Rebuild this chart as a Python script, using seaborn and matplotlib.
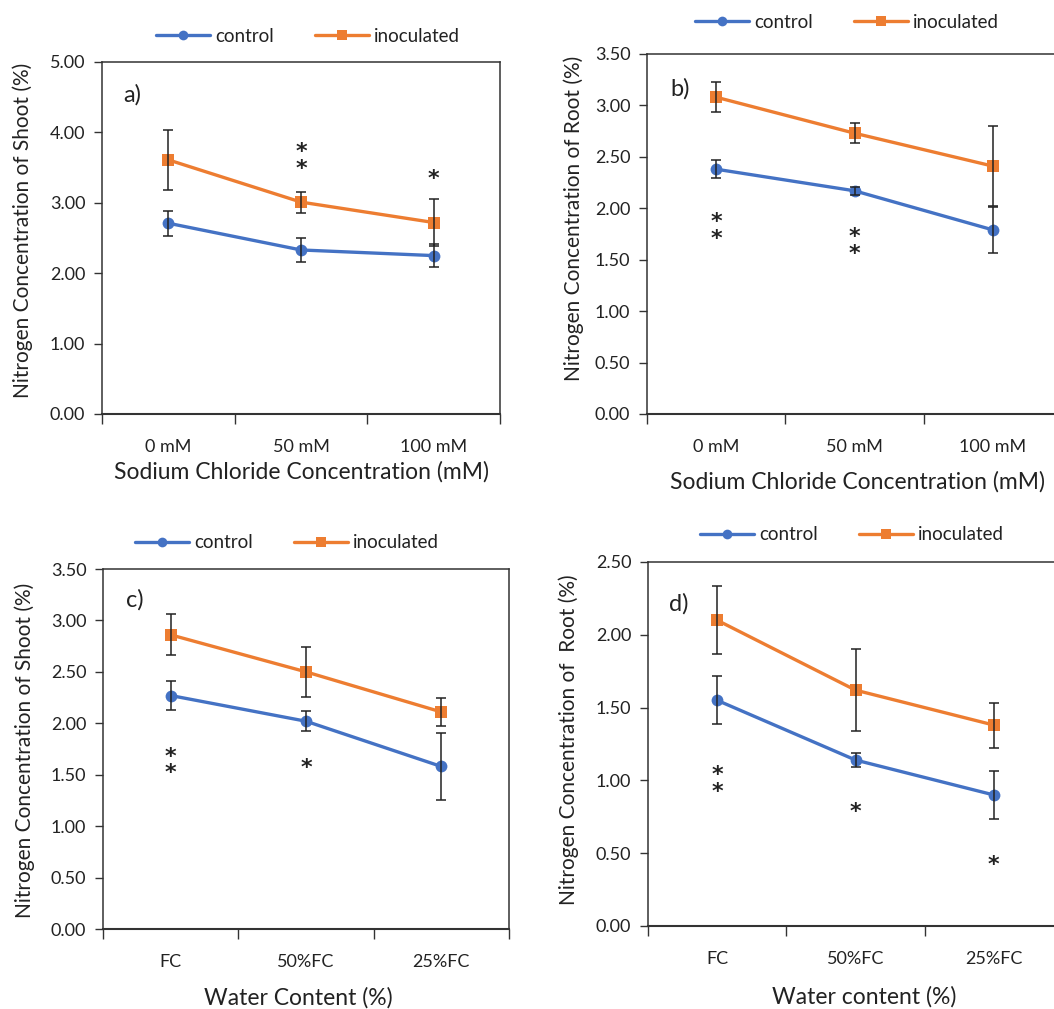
import numpy as np
import pandas as pd
import matplotlib
matplotlib.use("Agg")
import matplotlib.pyplot as plt
from matplotlib.ticker import FormatStrFormatter
from matplotlib.transforms import ScaledTranslation
import seaborn as sns

sns.set_theme(style="white")
plt.rcParams["font.family"] = ["Lato", "DejaVu Sans"]

# ---- data -------------------------------------------------------------
salt_levels = ["0 mM", "50 mM", "100 mM"]
water_levels = ["FC", "50%FC", "25%FC"]
groups = ["control", "inoculated"]

shoot_salt_control = [2.71, 2.33, 2.25]
shoot_salt_control_se = [0.18, 0.17, 0.16]
shoot_salt_inoc = [3.61, 3.01, 2.72]
shoot_salt_inoc_se = [0.43, 0.15, 0.34]

root_salt_control = [2.38, 2.17, 1.79]
root_salt_control_se = [0.09, 0.04, 0.22]
root_salt_inoc = [3.08, 2.73, 2.41]
root_salt_inoc_se = [0.145, 0.10, 0.39]

shoot_water_control = [2.27, 2.02, 1.58]
shoot_water_control_se = [0.14, 0.095, 0.33]
shoot_water_inoc = [2.86, 2.50, 2.11]
shoot_water_inoc_se = [0.20, 0.24, 0.14]

root_water_control = [1.55, 1.14, 0.90]
root_water_control_se = [0.165, 0.05, 0.165]
root_water_inoc = [2.10, 1.62, 1.38]
root_water_inoc_se = [0.235, 0.28, 0.155]

# significance marks: (category index, y position of each star)
stars_a = [(1, [3.79, 3.55]), (2, [3.41])]
stars_b = [(0, [1.92, 1.74]), (1, [1.77, 1.60])]
stars_c = [(0, [1.73, 1.55]), (1, [1.61])]
stars_d = [(0, [1.076, 0.95]), (1, [0.815]), (2, [0.45])]

colors = {"control": "#4472C4", "inoculated": "#ED7D31"}
markers = {"control": "o", "inoculated": "s"}
ink = "#222222"

W, H = 1054, 1009
fig = plt.figure(figsize=(W / 100, H / 100), dpi=100)


def px_axes(left, right, top, bottom):
    return fig.add_axes([left / W, 1 - bottom / H, (right - left) / W, (bottom - top) / H])


panels = [
    dict(box=(102, 500, 62, 414), levels=salt_levels,
         ctrl=(shoot_salt_control, shoot_salt_control_se),
         inoc=(shoot_salt_inoc, shoot_salt_inoc_se),
         ymax=5.0, ystep=1.0, tag="a)", tagpos=(132, 95),
         ylabel="Nitrogen Concentration of Shoot (%)", ylabpos=(23, 230),
         xlabel="Sodium Chloride Concentration (mM)", xlabpos=(302, 472),
         legpos=(308, 36), stars=stars_a),
    dict(box=(647, 1062, 54, 414), levels=salt_levels,
         ctrl=(root_salt_control, root_salt_control_se),
         inoc=(root_salt_inoc, root_salt_inoc_se),
         ymax=3.5, ystep=0.5, tag="b)", tagpos=(680, 89),
         ylabel="Nitrogen Concentration of Root (%)", ylabpos=(574, 218),
         xlabel="Sodium Chloride Concentration (mM)", xlabpos=(857, 482),
         legpos=(847, 22), stars=stars_b),
    dict(box=(103, 509, 569, 929), levels=water_levels,
         ctrl=(shoot_water_control, shoot_water_control_se),
         inoc=(shoot_water_inoc, shoot_water_inoc_se),
         ymax=3.5, ystep=0.5, tag="c)", tagpos=(135, 600),
         ylabel="Nitrogen Concentration of Shoot (%)", ylabpos=(25, 750),
         xlabel="Water Content (%)", xlabpos=(298, 998),
         legpos=(287, 543), stars=stars_c),
    dict(box=(648, 1063, 562, 926), levels=water_levels,
         ctrl=(root_water_control, root_water_control_se),
         inoc=(root_water_inoc, root_water_inoc_se),
         ymax=2.5, ystep=0.5, tag="d)", tagpos=(679, 604),
         ylabel="Nitrogen Concentration of  Root (%)", ylabpos=(569, 740),
         xlabel="Water content (%)", xlabpos=(864, 997),
         legpos=(852, 535), stars=stars_d),
]

for p in panels:
    ax = px_axes(*p["box"])
    df = pd.DataFrame({
        "level": p["levels"] * 2,
        "value": list(p["ctrl"][0]) + list(p["inoc"][0]),
        "se": list(p["ctrl"][1]) + list(p["inoc"][1]),
        "group": ["control"] * 3 + ["inoculated"] * 3,
    })
    sns.lineplot(data=df, x="level", y="value", hue="group", style="group",
                 palette=colors, markers=markers, dashes=False, sort=False,
                 errorbar=None, linewidth=2.4, markersize=8.5,
                 markeredgewidth=0, ax=ax, legend=True)
    for g in groups:
        sub = df[df["group"] == g]
        ax.errorbar(np.arange(3), sub["value"], yerr=sub["se"], fmt="none",
                    ecolor=ink, elinewidth=1.1, capsize=3.8,
                    capthick=1.1, zorder=5)

    ax.set_xlim(-0.5, 2.5)
    ax.set_ylim(0, p["ymax"])
    ax.set_yticks(np.arange(0, p["ymax"] + 1e-9, p["ystep"]))
    ax.yaxis.set_major_formatter(FormatStrFormatter("%.2f"))
    ax.set_xticks([0, 1, 2])
    ax.set_xticklabels(p["levels"])
    ax.set_xticks([-0.5, 0.5, 1.5, 2.5], minor=True)
    ax.tick_params(axis="x", which="major", length=0, pad=18, labelsize=13,
                   labelcolor=ink)
    ax.tick_params(axis="x", which="minor", length=7, width=1.0,
                   direction="out", color="#333333", bottom=True)
    ax.tick_params(axis="y", which="major", length=6, width=1.0,
                   direction="out", color="#333333", left=True, pad=6,
                   labelsize=13, labelcolor=ink)
    for s in ax.spines.values():
        s.set_color("#333333")
        s.set_linewidth(1.1)
    ax.spines["bottom"].set_linewidth(1.5)
    ax.set_xlabel("")
    ax.set_ylabel("")

    fig.text(p["ylabpos"][0] / W, 1 - p["ylabpos"][1] / H, p["ylabel"],
             rotation=90, ha="center", va="center", fontsize=15,
             color=ink)
    fig.text(p["xlabpos"][0] / W, 1 - p["xlabpos"][1] / H, p["xlabel"],
             ha="center", va="center", fontsize=16.5, color=ink)
    fig.text(p["tagpos"][0] / W, 1 - p["tagpos"][1] / H, p["tag"],
             ha="center", va="center", fontsize=17, color=ink)

    # stacked asterisks drawn as one text per category
    shift = ScaledTranslation(0, -3.5 / 72, fig.dpi_scale_trans)
    for idx, ys in p["stars"]:
        ax.text(idx, float(np.mean(ys)), "\n".join("*" * len(ys)),
                ha="center", va="center", fontsize=16, linespacing=0.78,
                fontweight="bold", color=ink, family=["DejaVu Sans"],
                transform=ax.transData + shift)

    handles, labels = ax.get_legend_handles_labels()
    ax.get_legend().remove()
    for h in handles:
        h.set_markersize(7)
    fig.legend(handles, labels, loc="center",
               bbox_to_anchor=(p["legpos"][0] / W, 1 - p["legpos"][1] / H),
               ncol=2, frameon=False, fontsize=13.5, handlelength=2.9,
               handletextpad=0.25, columnspacing=2.2, labelcolor=ink)

fig.savefig("out.png", dpi=100)
